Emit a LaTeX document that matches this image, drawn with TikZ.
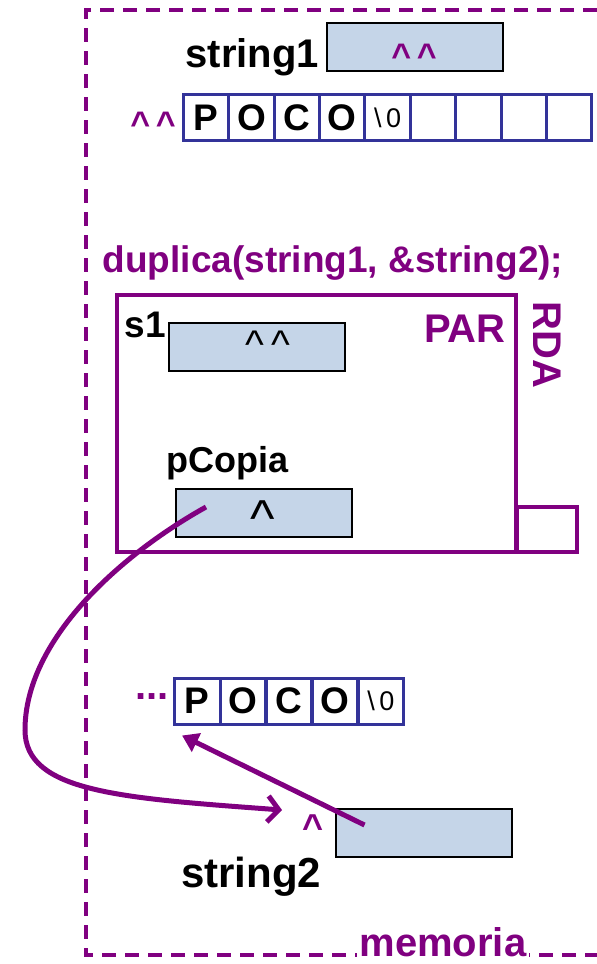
\documentclass[tikz,border=0pt]{standalone}
\usepackage{fontspec}
\setmainfont{Liberation Sans}
\usetikzlibrary{arrows.meta}
\definecolor{viola}{RGB}{128,0,128}
\definecolor{celeste}{RGB}{197,213,232}
\definecolor{blu}{RGB}{51,51,153}
\newcommand{\nullchar}{{\fontsize{27}{27}\selectfont\mdseries\textbackslash\,0}}
\tikzset{
  var/.style={draw=black, line width=2pt, fill=celeste, minimum width=176pt,
    minimum height=48pt, inner sep=0pt},
  cella/.style={draw=blu, line width=3pt, minimum width=45.5pt, minimum height=46pt,
    inner sep=0pt, font=\fontsize{37}{37}\selectfont\bfseries},
  etic/.style={inner sep=0pt, font=\fontsize{40}{40}\selectfont\bfseries},
  freccia/.style={viola, line width=5pt}
}
\begin{document}
\begin{tikzpicture}[x=1pt, y=-1pt]
    \useasboundingbox (0,0) rectangle (597,964);

    % Memoria (dashed frame)
    \draw[viola, line width=3.5pt, dash pattern=on 14pt off 9pt] (597,10) -- (86,10) -- (86,955) -- (597,955);
    \node[etic, viola, fill=white, inner xsep=3pt] (memoria) at (443,942) {memoria};

    % string1 and its array
    \node[etic, anchor=base east] (lblS1) at (319,67) {string1};
    \node[var] (string1) at (414.5,47) {};
    \node[etic, viola, font=\fontsize{34}{34}\selectfont\bfseries] (hatS1a) at (414,56) {\textasciicircum\,\textasciicircum};
    \foreach \i/\c in {0/P, 1/O, 2/C, 3/O, 4/\nullchar, 5/{}, 6/{}, 7/{}, 8/{}}
        \node[cella] (a\i) at (206+45.4*\i,117.5) {\c};
    \node[etic, viola, font=\fontsize{34}{34}\selectfont\bfseries] (hatA) at (153,124) {\textasciicircum\,\textasciicircum};

    % Call
    \node[etic, viola, font=\fontsize{37}{37}\selectfont\bfseries] (chiamata) at (333,263) {duplica(string1, \&string2);};

    % RDA of duplica
    \node[draw=viola, line width=4pt, minimum width=399pt, minimum height=257pt] (par) at (316.5,423.5) {};
    \node[draw=viola, line width=4pt, minimum width=60pt, minimum height=45pt] (link) at (547,529.5) {};
    \node[etic, viola] (lblPar) at (465,329) {PAR};
    \node[etic, viola, rotate=-90] (lblRda) at (547,345) {RDA};

    \node[etic, font=\fontsize{37}{37}\selectfont\bfseries, anchor=base east] (lblS1p) at (166,337) {s1};
    \node[var] (s1) at (257,346.5) {};
    \node[font=\fontsize{40}{40}\selectfont] (hatS1) at (268,345) {\textasciicircum\,\textasciicircum};

    \node[etic, font=\fontsize{36}{36}\selectfont\bfseries, anchor=base west] (lblPc) at (166,472) {pCopia};
    \node[var] (pcopia) at (264,513) {};
    \node[font=\fontsize{52}{52}\selectfont] (hatPc) at (263,519) {\textasciicircum};

    % Copy in the heap
    \node[viola, font=\fontsize{40}{40}\selectfont\bfseries] (dots) at (152,697) {...};
    \foreach \i/\c in {0/P, 1/O, 2/C, 3/O, 4/\nullchar}
        \node[cella] (b\i) at (197.3+45.9*\i,701) {\c};

    % string2
    \node[var] (string2) at (423.5,833) {};
    \node[etic, viola, font=\fontsize{36}{36}\selectfont\bfseries] (hatS2) at (313,827) {\textasciicircum};
    \node[etic, font=\fontsize{42}{42}\selectfont\bfseries, anchor=base west] (lblS2) at (181,887) {string2};

    % Pointers
    \coordinate (pcFrom) at ([shift={(31,-6)}]pcopia.west);
    \coordinate (s2To) at ([shift={(-31,-17)}]hatS2.center);
    \coordinate (s2From) at ([shift={(30,-8)}]string2.west);
    \coordinate (heapTo) at ([shift={(9,10)}]b0.south west);
    \draw[freccia, -{Straight Barb[length=11pt, width=26pt]}] (pcFrom) .. controls (120,555) and (25,640) .. (25,730)
        .. controls (25,792) and (120,798) .. (s2To);
    \draw[freccia, -{Triangle[length=16pt, width=20pt]}] (s2From) -- (heapTo);
\end{tikzpicture}
\end{document}
